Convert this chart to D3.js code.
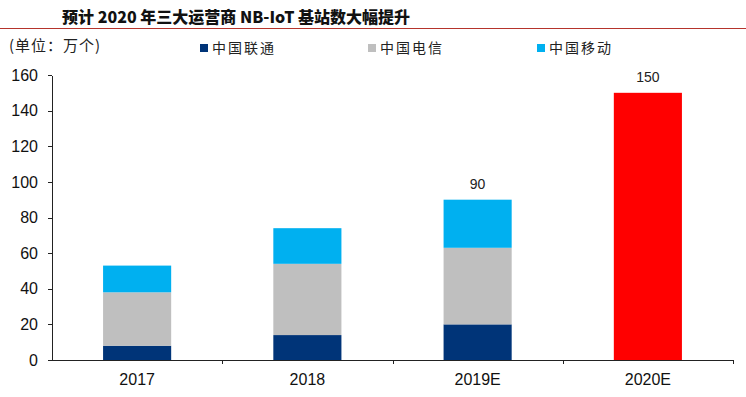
<html>
<head>
    <meta charset="utf-8">
    <title>NB-IoT base stations</title>
    <style>
        body { margin: 0; background: #fff; }
        .axis { font: 16px "Liberation Sans", Arial, sans-serif; }
        .axis path, .axis line { fill: none; stroke: #222; shape-rendering: crispEdges; }
        .cn { font-family: "Noto Sans CJK SC", sans-serif; }
    </style>
    <script src="https://d3js.org/d3.v7.min.js"></script>
</head>
<body>
<script>
    // data
    var categories = ["2017", "2018", "2019E", "2020E"];
    var unicom = [8, 14, 20, 0];
    var telecom = [30, 40, 43, 0];
    var mobile = [15, 20, 27, 0];
    var combined = [0, 0, 0, 150];
    var totalLabels = ["", "", "90", "150"];
    var yTicks = [0, 20, 40, 60, 80, 100, 120, 140, 160];

    var series = [
        {name: "中国联通", values: unicom, color: "#003478"},
        {name: "中国电信", values: telecom, color: "#bfbfbf"},
        {name: "中国移动", values: mobile, color: "#00b0f0"},
        {name: "合计", values: combined, color: "#ff0000"}
    ];

    var width = 746, height = 397;
    var svg = d3.select("body").append("svg")
        .attr("width", width)
        .attr("height", height);

    var x = d3.scaleBand()
        .domain(categories)
        .range([52, 733])
        .paddingInner(0.6)
        .paddingOuter(0.3);

    var y = d3.scaleLinear()
        .domain([0, 160])
        .range([360, 75]);

    // title + rule
    svg.append("text")
        .attr("class", "cn")
        .attr("x", 62)
        .attr("y", 23)
        .style("font-size", "16px")
        .style("font-weight", "900")
        .attr("fill", "#111")
        .text("预计 2020 年三大运营商 NB-IoT 基站数大幅提升");
    svg.append("line")
        .attr("x1", 0).attr("x2", width)
        .attr("y1", 28.5).attr("y2", 28.5)
        .attr("stroke", "#b5342c")
        .attr("stroke-width", 1);

    svg.append("text")
        .attr("class", "cn")
        .attr("x", 9)
        .attr("y", 51)
        .style("font-size", "15px")
        .style("letter-spacing", "1px")
        .attr("fill", "#222")
        .text("(单位：万个)");

    // legend
    var legendX = [200, 368, 537];
    var legend = svg.selectAll(".legend")
        .data(series.slice(0, 3))
        .enter().append("g")
        .attr("class", "legend")
        .attr("transform", function(d, i) { return "translate(" + legendX[i] + ",48)"; });
    legend.append("rect")
        .attr("x", 0).attr("y", -4)
        .attr("width", 8).attr("height", 8)
        .attr("fill", function(d) { return d.color; });
    legend.append("text")
        .attr("class", "cn")
        .attr("x", 12)
        .attr("y", 5)
        .style("font-size", "14px")
        .style("letter-spacing", "2px")
        .attr("fill", "#222")
        .text(function(d) { return d.name; });

    // stacked bars
    var rows = categories.map(function(c, i) {
        var r = {cat: c};
        series.forEach(function(s) { r[s.name] = s.values[i]; });
        return r;
    });
    var stack = d3.stack().keys(series.map(function(s) { return s.name; }));
    var layers = stack(rows);

    svg.selectAll(".layer")
        .data(layers)
        .enter().append("g")
        .attr("class", "layer")
        .attr("fill", function(d, i) { return series[i].color; })
        .selectAll("rect")
        .data(function(d) { return d; })
        .enter().append("rect")
        .attr("x", function(d) { return x(d.data.cat); })
        .attr("y", function(d) { return y(d[1]); })
        .attr("width", x.bandwidth())
        .attr("height", function(d) { return y(d[0]) - y(d[1]); });

    // total labels
    svg.selectAll(".total")
        .data(categories)
        .enter().append("text")
        .attr("class", "total")
        .attr("x", function(d) { return x(d) + x.bandwidth() / 2; })
        .attr("y", function(d, i) {
            var t = unicom[i] + telecom[i] + mobile[i] + combined[i];
            return y(t) - 11;
        })
        .attr("text-anchor", "middle")
        .style("font", "14px 'Liberation Sans', Arial, sans-serif")
        .attr("fill", "#222")
        .text(function(d, i) { return totalLabels[i]; });

    // axes
    svg.append("g")
        .attr("class", "y axis")
        .attr("transform", "translate(52,0)")
        .call(d3.axisLeft(y).tickValues(yTicks).tickSize(4).tickSizeOuter(0).tickPadding(10))
        .selectAll("text").attr("fill", "#111");

    var xAxis = svg.append("g")
        .attr("class", "x axis")
        .attr("transform", "translate(0,360)")
        .call(d3.axisBottom(x).tickSize(0).tickSizeOuter(0).tickPadding(14));
    xAxis.selectAll("text").attr("fill", "#111");

    // boundary ticks between categories
    var step = x.step();
    var bounds = categories.map(function(c) {
        return x(c) + x.bandwidth() + (step - x.bandwidth()) / 2;
    });
    xAxis.selectAll(".bound")
        .data(bounds)
        .enter().append("line")
        .attr("class", "bound")
        .attr("x1", function(d) { return Math.round(d) + 0.5; })
        .attr("x2", function(d) { return Math.round(d) + 0.5; })
        .attr("y1", 0).attr("y2", 4);
</script>
</body>
</html>
